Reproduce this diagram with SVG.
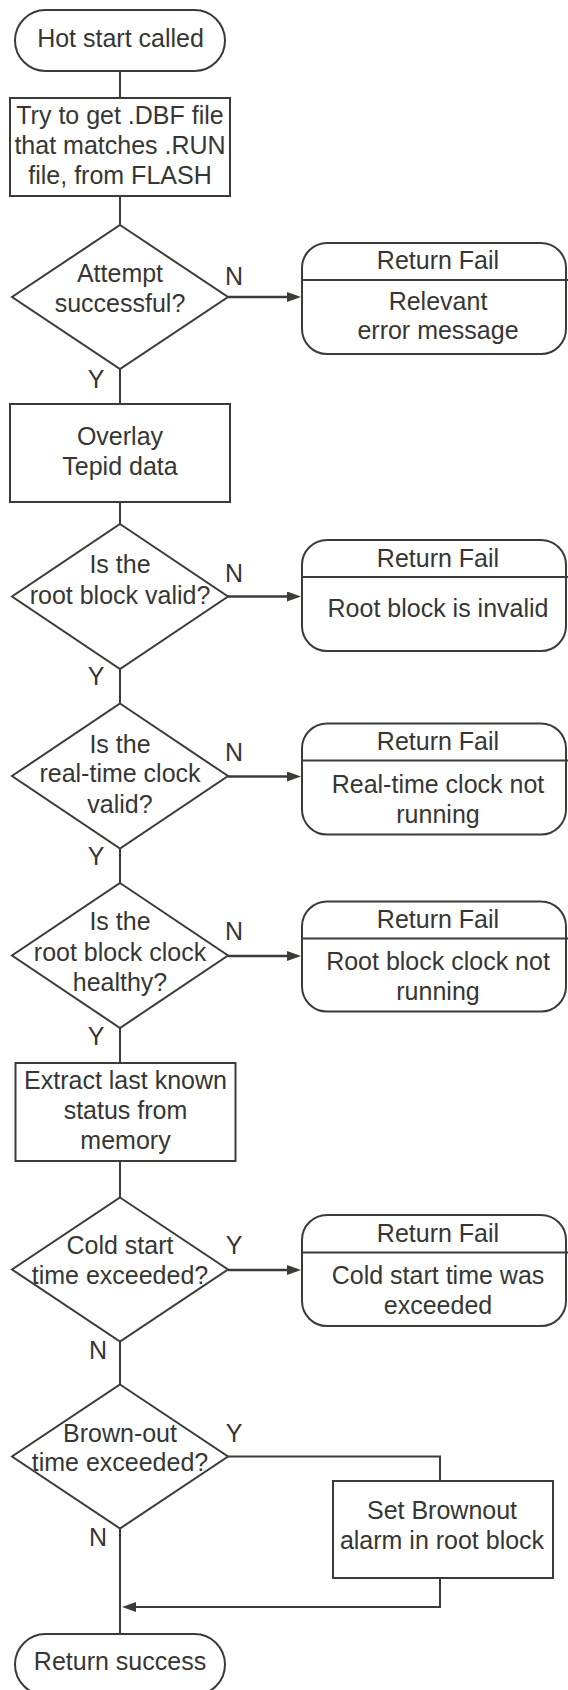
<svg xmlns="http://www.w3.org/2000/svg" width="568" height="1690" viewBox="0 0 568 1690">
<style>
.s{fill:#fff;stroke:#3b3b38;stroke-width:2}
.c{fill:none;stroke:#3b3b38;stroke-width:2}
.a{fill:none;stroke:#3b3b38;stroke-width:2.5}
text{font-family:"Liberation Sans",Arial,Helvetica,sans-serif;font-size:25px;fill:#363634;text-anchor:middle}
</style>
<defs>
<marker id="ah" markerUnits="userSpaceOnUse" markerWidth="14" markerHeight="10" refX="10" refY="5" orient="auto">
<path d="M0,0 L14,5 L0,10 z" fill="#3b3b38"/>
</marker>
</defs>
<g id="connectors">
<line class="c" x1="120" y1="71" x2="120" y2="98"/>
<line class="c" x1="120" y1="196" x2="120" y2="225"/>
<line class="a" x1="228" y1="297" x2="297" y2="297" marker-end="url(#ah)"/>
<line class="c" x1="120" y1="369" x2="120" y2="404"/>
<line class="c" x1="120" y1="502" x2="120" y2="524"/>
<line class="a" x1="228" y1="596.5" x2="297" y2="596.5" marker-end="url(#ah)"/>
<line class="c" x1="120" y1="669" x2="120" y2="703.5"/>
<line class="a" x1="228" y1="776.5" x2="297" y2="776.5" marker-end="url(#ah)"/>
<line class="c" x1="120" y1="848.5" x2="120" y2="883"/>
<line class="a" x1="228" y1="956" x2="297" y2="956" marker-end="url(#ah)"/>
<line class="c" x1="120" y1="1028" x2="120" y2="1063"/>
<line class="c" x1="120" y1="1161" x2="120" y2="1197.5"/>
<line class="a" x1="228" y1="1270" x2="297" y2="1270" marker-end="url(#ah)"/>
<line class="c" x1="120" y1="1341.5" x2="120" y2="1384.5"/>
<polyline class="c" points="228,1456.5 440,1456.5 440,1481"/>
<polyline class="c" points="440,1578 440,1607 126,1607" marker-end="url(#ah)"/>
<line class="c" x1="120" y1="1528.5" x2="120" y2="1634"/>
<text x="234" y="285">N</text>
<text x="96" y="388">Y</text>
<text x="234" y="581.5">N</text>
<text x="96" y="685">Y</text>
<text x="234" y="760.5">N</text>
<text x="96" y="865">Y</text>
<text x="234" y="940">N</text>
<text x="96" y="1045">Y</text>
<text x="234" y="1254">Y</text>
<text x="98" y="1359">N</text>
<text x="234" y="1441.5">Y</text>
<text x="98" y="1546">N</text>
</g>
<g id="start">
<rect class="s" x="15" y="10" width="210" height="61" rx="30.5"/>
<text x="120.5" y="46.5">Hot start called</text>
</g>
<g id="get-dbf">
<rect class="s" x="10" y="98" width="220" height="98"/>
<text x="120" y="124">Try to get .DBF file</text>
<text x="120" y="154">that matches .RUN</text>
<text x="120" y="184">file, from FLASH</text>
</g>
<g id="attempt-successful">
<polygon class="s" points="120,225 228,297 120,369 12,297"/>
<text x="120" y="281.5">Attempt</text>
<text x="120" y="311.5">successful?</text>
</g>
<g id="fail-1">
<rect class="s" x="302" y="243" width="264" height="111" rx="25"/>
<line class="c" x1="302" y1="280" x2="568" y2="280"/>
<text x="438" y="268.5">Return Fail</text>
<text x="438" y="309.5">Relevant</text>
<text x="438" y="338.5">error message</text>
</g>
<g id="overlay">
<rect class="s" x="10" y="404" width="220" height="98"/>
<text x="120" y="445">Overlay</text>
<text x="120" y="475">Tepid data</text>
</g>
<g id="root-valid">
<polygon class="s" points="120,524 228,596.5 120,669 12,596.5"/>
<text x="120" y="572.5">Is the</text>
<text x="120" y="603.5">root block valid?</text>
</g>
<g id="fail-2">
<rect class="s" x="302" y="540" width="264" height="111" rx="25"/>
<line class="c" x1="302" y1="577" x2="568" y2="577"/>
<text x="438" y="566.5">Return Fail</text>
<text x="438" y="616.5">Root block is invalid</text>
</g>
<g id="rtc-valid">
<polygon class="s" points="120,703.5 228,776 120,848.5 12,776"/>
<text x="120" y="752.5">Is the</text>
<text x="120" y="781.5">real-time clock</text>
<text x="120" y="812.5">valid?</text>
</g>
<g id="fail-3">
<rect class="s" x="302" y="723.5" width="264" height="111" rx="25"/>
<line class="c" x1="302" y1="760.5" x2="568" y2="760.5"/>
<text x="438" y="749.5">Return Fail</text>
<text x="438" y="792.5">Real-time clock not</text>
<text x="438" y="822.5">running</text>
</g>
<g id="rb-clock-healthy">
<polygon class="s" points="120,883 228,955.5 120,1028 12,955.5"/>
<text x="120" y="930">Is the</text>
<text x="120" y="960.5">root block clock</text>
<text x="120" y="990.5">healthy?</text>
</g>
<g id="fail-4">
<rect class="s" x="302" y="901.5" width="264" height="110" rx="25"/>
<line class="c" x1="302" y1="938.5" x2="568" y2="938.5"/>
<text x="438" y="927.5">Return Fail</text>
<text x="438" y="970">Root block clock not</text>
<text x="438" y="1000">running</text>
</g>
<g id="extract-status">
<rect class="s" x="15.5" y="1063" width="220" height="98"/>
<text x="125.5" y="1088.5">Extract last known</text>
<text x="125.5" y="1118.5">status from</text>
<text x="125.5" y="1148.5">memory</text>
</g>
<g id="cold-start-exceeded">
<polygon class="s" points="120,1197.5 228,1269.5 120,1341.5 12,1269.5"/>
<text x="120" y="1254">Cold start</text>
<text x="120" y="1284">time exceeded?</text>
</g>
<g id="fail-5">
<rect class="s" x="302" y="1215" width="264" height="111" rx="25"/>
<line class="c" x1="302" y1="1252.5" x2="568" y2="1252.5"/>
<text x="438" y="1241.5">Return Fail</text>
<text x="438" y="1284">Cold start time was</text>
<text x="438" y="1313.5">exceeded</text>
</g>
<g id="brownout-exceeded">
<polygon class="s" points="120,1384.5 228,1456.5 120,1528.5 12,1456.5"/>
<text x="120" y="1441.5">Brown-out</text>
<text x="120" y="1470.5">time exceeded?</text>
</g>
<g id="set-brownout">
<rect class="s" x="333" y="1481" width="220" height="97"/>
<text x="442" y="1518.5">Set Brownout</text>
<text x="442" y="1548.5">alarm in root block</text>
</g>
<g id="end">
<rect class="s" x="15" y="1634" width="210" height="61" rx="30.5"/>
<text x="120" y="1670">Return success</text>
</g>
</svg>
